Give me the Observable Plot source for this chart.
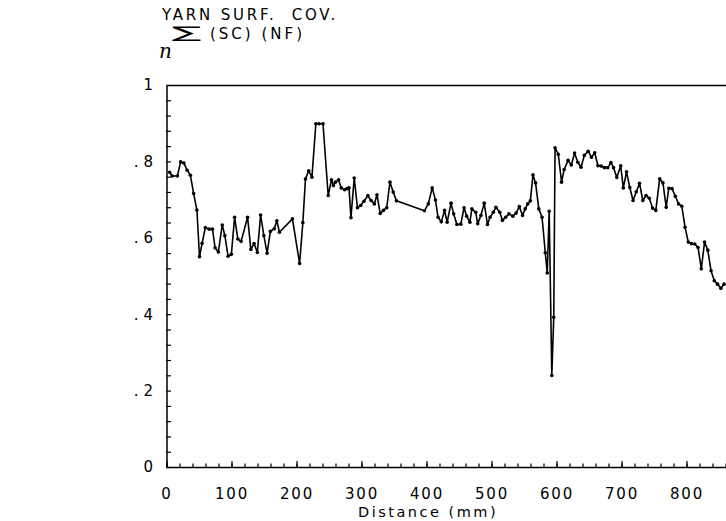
<!DOCTYPE html>
<html>
<head>
<meta charset="utf-8">
<script src="https://cdn.jsdelivr.net/npm/d3@7"></script>
<script src="https://cdn.jsdelivr.net/npm/@observablehq/plot@0.6"></script>
<style>
  html, body { margin: 0; padding: 0; background: #fff; overflow: hidden; }
  #wrap { position: relative; width: 726px; height: 521px; overflow: hidden; font-family: "DejaVu Sans", sans-serif; color: #000; }
  .lbl { position: absolute; white-space: pre; line-height: 1; }
  #title { left: 162px; top: 8px; font-size: 15px; letter-spacing: 2.8px; }
  #sigma { left: 172px; top: 25px; font-size: 16px; transform: scaleX(2.75); transform-origin: left top; }
  #sub { left: 159px; top: 41px; font-family: "DejaVu Serif", serif; font-style: italic; font-size: 20px; }
  #vars { left: 210px; top: 27px; font-size: 15px; letter-spacing: 3px; }
  #xlabel { left: 428px; top: 505px; font-size: 14.5px; letter-spacing: 2.5px; transform: translateX(-50%); }
  #chart { position: absolute; left: 0; top: 0; }
  #chart svg { max-width: none !important; }
</style>
</head>
<body>
<div id="wrap">
  <div id="chart"></div>
  <div class="lbl" id="title">YARN SURF.  COV.</div>
  <div class="lbl" id="sigma">∑</div>
  <div class="lbl" id="sub">n</div>
  <div class="lbl" id="vars">(SC) (NF)</div>
  <div class="lbl" id="xlabel">Distance (mm)</div>
</div>
<script>
// Yarn surface coverage measured along the yarn
const distance = [
  4, 8, 16, 21, 26, 31, 36, 41, 46, 50, 54, 59, 65, 70, 74, 79, 85, 89, 94, 99,
  104, 109, 114, 124, 129, 134, 139, 144, 149, 154, 159, 165, 169, 173,
  193, 204, 209, 213, 218, 223, 229, 234, 240, 248, 253, 256, 259, 264, 268, 273,
  277, 280, 283, 288, 293, 298, 303, 309, 314, 319, 323, 328, 333, 338, 343, 348, 353,
  396, 402, 408, 413, 417, 422, 427, 431, 437, 441, 446, 452, 457, 461, 466, 469,
  475, 478, 483, 488, 493, 497, 502, 506, 512, 516, 521, 526, 532, 537, 542, 547,
  551, 555, 559, 563, 567, 572, 577, 582, 585, 588, 592, 595, 597, 602, 607, 611,
  617, 622, 627, 632, 637, 642, 648, 653, 658, 663, 668, 673, 678, 683, 687, 692,
  698, 702, 707, 712, 717, 722, 727, 732, 737, 742, 747, 752, 758, 763, 768, 772,
  777, 782, 787, 792, 797, 802, 807, 812, 817, 822, 827, 832, 837, 842, 847, 852,
  857, 861
];
const coverage = [
  .773, .763, .763, .800, .797, .778, .765, .717, .674, .552, .587, .628, .624, .624, .575, .564, .635, .607, .553, .558,
  .655, .598, .592, .655, .571, .586, .563, .661, .607, .561, .618, .625, .646, .616,
  .651, .534, .641, .755, .777, .760, .900, .900, .900, .712, .753, .738, .747, .753, .732, .727,
  .730, .732, .654, .758, .680, .686, .697, .712, .699, .690, .714, .665, .673, .680, .747, .721, .698,
  .672, .690, .732, .700, .655, .643, .673, .642, .692, .664, .636, .637, .680, .658, .642,
  .677, .668, .638, .660, .692, .636, .655, .668, .681, .668, .647, .655, .664, .658, .666, .683,
  .660, .677, .690, .698, .766, .745, .677, .655, .562, .509, .671, .241, .393, .837, .820, .747,
  .780, .804, .792, .823, .799, .786, .817, .828, .812, .824, .790, .789, .785, .785, .798, .785,
  .759, .790, .732, .774, .733, .699, .722, .744, .699, .712, .705, .679, .673, .756, .745, .681,
  .731, .730, .710, .690, .684, .629, .590, .586, .585, .576, .520, .590, .569, .515, .489, .480,
  .469, .480
];
const xLabelTicks = [0, 100, 200, 300, 400, 500, 600, 700, 800];
const xMajorTicks = d3.range(0, 1001, 100);
const xMinorTicks = d3.range(0, 1001, 20);
const yLabelTicks = [0, 0.2, 0.4, 0.6, 0.8, 1];
const yMinorTicks = d3.range(0, 25).map(i => i * 0.04);

const rows = distance.map((d, i) => ({distance: d, coverage: coverage[i]}));

const fmtY = d => d === 0 ? "0" : d === 1 ? "1" : "." + Math.round(d * 10);

const font = {fontFamily: "DejaVu Sans, sans-serif"};

// plot area geometry
const W = 830, H = 521, mL = 166.5, mR = 13.5, mT = 85, mB = 54;
const xDomain = [0, 1000], yDomain = [0, 1];
// inward tick lengths expressed in data units (pixels -> domain)
const pxX = (xDomain[1] - xDomain[0]) / (W - mL - mR);
const pxY = (yDomain[1] - yDomain[0]) / (H - mT - mB);

const chart = Plot.plot({
  width: W,
  height: H,
  marginLeft: mL,
  marginRight: mR,
  marginTop: mT,
  marginBottom: mB,
  style: {background: "white", color: "black", fontFamily: "DejaVu Sans, sans-serif", overflow: "visible", maxWidth: "none"},
  x: {domain: xDomain, label: null, axis: null},
  y: {domain: yDomain, label: null, axis: null},
  marks: [
    Plot.frame({stroke: "black", strokeWidth: 1.5}),
    // tick marks pointing into the plot area
    Plot.ruleX(xMinorTicks, {x: d => d, y1: 0, y2: 3.5 * pxY, stroke: "black", strokeWidth: 1.2}),
    Plot.ruleX(xMajorTicks, {x: d => d, y1: 0, y2: 6 * pxY, stroke: "black", strokeWidth: 1.2}),
    Plot.ruleY(yMinorTicks, {y: d => d, x1: 0, x2: 4.5 * pxX, stroke: "black", strokeWidth: 1.2}),
    // tick labels
    Plot.axisX({ticks: xLabelTicks, tickSize: 0, tickPadding: 21, label: null, fontSize: 15, tickFormat: d => String(d), ...font}),
    Plot.axisY({ticks: yLabelTicks, tickSize: 0, tickPadding: 9, label: null, fontSize: 15, tickFormat: fmtY, ...font}),
    // the measured profile
    Plot.line(rows, {x: "distance", y: "coverage", stroke: "black", strokeWidth: 1.6, strokeLinejoin: "round"}),
    Plot.dot(rows, {x: "distance", y: "coverage", r: 1.8, fill: "black", stroke: "none"})
  ]
});
chart.querySelectorAll("g[aria-label='x-axis tick label'] text").forEach(t => t.setAttribute("letter-spacing", "1.8"));
chart.querySelectorAll("g[aria-label='y-axis tick label'] text").forEach(t => t.setAttribute("letter-spacing", "5"));
document.getElementById("chart").appendChild(chart);
</script>
</body>
</html>
